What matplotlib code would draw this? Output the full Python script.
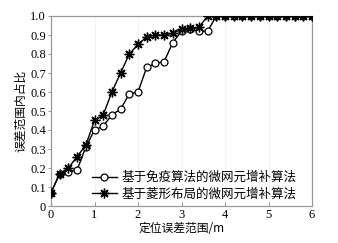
import matplotlib
matplotlib.use("Agg")
import matplotlib.pyplot as plt
from matplotlib.ticker import FixedLocator, FixedFormatter

x = [0.0, 0.2, 0.4, 0.6, 0.8, 1.0, 1.2, 1.4, 1.6, 1.8, 2.0, 2.2, 2.4, 2.6, 2.8,
     3.0, 3.2, 3.4, 3.6, 3.8, 4.0, 4.2, 4.4, 4.6, 4.8, 5.0, 5.2, 5.4, 5.6, 5.8, 6.0]
immune = [0.07, 0.17, 0.18, 0.19, 0.31, 0.40, 0.42, 0.48, 0.51, 0.59, 0.60, 0.73, 0.75, 0.76, 0.86,
          0.92, 0.93, 0.92, 0.92, 1.0, 1.0, 1.0, 1.0, 1.0, 1.0, 1.0, 1.0, 1.0, 1.0, 1.0, 1.0]
rhombus = [0.07, 0.17, 0.20, 0.26, 0.32, 0.45, 0.48, 0.60, 0.70, 0.80, 0.85, 0.89, 0.90, 0.90, 0.91,
           0.93, 0.935, 0.94, 1.0, 1.0, 1.0, 1.0, 1.0, 1.0, 1.0, 1.0, 1.0, 1.0, 1.0, 1.0, 1.0]
labels = ["基于免疫算法的微网元增补算法", "基于菱形布局的微网元增补算法"]
xticks = [0, 1, 2, 3, 4, 5, 6]
xticklabels = ["0", "1", "2", "3", "4", "5", "6"]
yticks = [0, 0.1, 0.2, 0.3, 0.4, 0.5, 0.6, 0.7, 0.8, 0.9, 1.0]
yticklabels = ["0", "0.1", "0.2", "0.3", "0.4", "0.5", "0.6", "0.7", "0.8", "0.9", "1.0"]
xlabel = "定位误差范围/m"
ylabel = "误差范围内占比"

plt.rcParams["font.family"] = ["Liberation Serif", "Noto Sans CJK SC"]
cjk = ["Noto Sans CJK SC", "DejaVu Sans"]

fig = plt.figure(figsize=(3.38, 2.43), dpi=100)
ax = fig.add_axes([51/338, 1 - 206/243, (312-51)/338, (206-16)/243])

ax.plot(x, immune, color="black", lw=1.0, marker="o", markersize=5,
        markerfacecolor="white", markeredgecolor="black", markeredgewidth=0.9,
        label=labels[0], zorder=3)
ax.plot(x, rhombus, color="black", lw=1.0, marker=(8, 2, 0), markersize=7,
        markerfacecolor="black", markeredgecolor="black", markeredgewidth=1.0,
        label=labels[1], zorder=4)

ax.set_xlim(0, 6)
ax.set_ylim(0, 1.0)
ax.xaxis.set_major_locator(FixedLocator(xticks))
ax.xaxis.set_major_formatter(FixedFormatter(xticklabels))
ax.yaxis.set_major_locator(FixedLocator(yticks))
ax.yaxis.set_major_formatter(FixedFormatter(yticklabels))
ax.tick_params(axis="both", labelsize=9)
ax.tick_params(axis="x", direction="in", length=3, width=0.6, color="#888888", pad=2)
ax.tick_params(axis="y", direction="out", length=2, width=0.6, color="#888888", pad=1.5)

ax.grid(axis="x", color="#f0f0f0", lw=0.6)
ax.set_axisbelow(True)
for s in ax.spines.values():
    s.set_color("#999999")
    s.set_linewidth(0.9)

ax.set_xlabel(xlabel, family=cjk, fontsize=8.5, labelpad=1)
ax.set_ylabel(ylabel, family=cjk, fontsize=8.5, labelpad=2)

leg = ax.legend(loc="lower right", bbox_to_anchor=(0.97, -0.01), frameon=False,
                prop={"family": cjk, "size": 9}, handlelength=2.0,
                handletextpad=0.4, labelspacing=0.25, borderaxespad=0.2)

fig.savefig("out.png", dpi=100)
